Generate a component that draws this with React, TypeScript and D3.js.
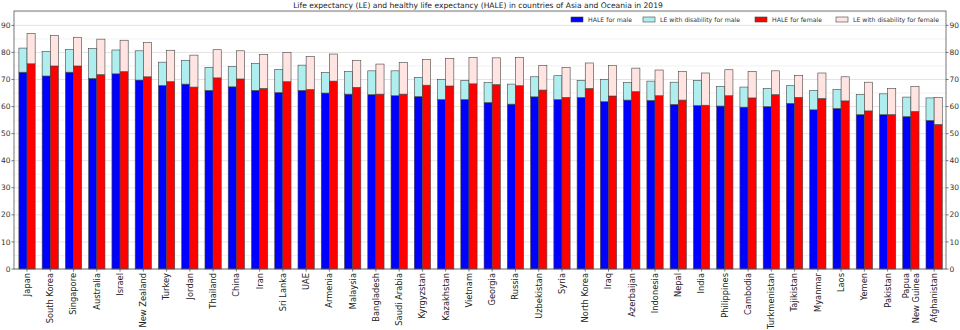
import React from "react";
import * as d3 from "d3";

const countries = ["Japan","South Korea","Singapore","Australia","Israel","New Zealand","Turkey","Jordan","Thailand","China","Iran","Sri Lanka","UAE","Armenia","Malaysia","Bangladesh","Saudi Arabia","Kyrgyzstan","Kazakhstan","Vietnam","Georgia","Russia","Uzbekistan","Syria","North Korea","Iraq","Azerbaijan","Indonesia","Nepal","India","Philippines","Cambodia","Turkmenistan","Tajikistan","Myanmar","Laos","Yemen","Pakistan","Papua\nNew Guinea","Afghanistan"];
const haleMale = [72.7,71.3,72.7,70.4,72.1,69.8,67.8,68.3,66.0,67.3,66.0,65.2,66.0,65.0,64.6,64.4,64.0,63.7,62.6,62.6,61.5,60.9,63.6,62.6,63.4,61.8,62.4,62.3,60.8,60.4,60.2,59.8,60.0,61.2,58.8,59.3,57.0,57.0,56.3,54.9];
const leMale = [81.6,80.4,81.1,81.5,80.9,80.6,76.4,77.1,74.5,74.8,75.9,73.7,75.3,72.6,72.9,73.2,73.2,70.8,70.0,69.7,68.9,68.3,71.0,71.4,69.7,70.0,68.9,69.4,69.0,69.7,67.4,67.2,66.7,67.7,66.0,66.3,64.5,64.7,63.5,63.2];
const haleFemale = [75.8,75.0,75.0,71.8,72.9,71.0,69.2,67.2,70.6,70.2,66.7,69.2,66.3,69.4,67.1,64.6,64.6,67.9,67.6,68.4,68.1,67.7,66.1,63.4,66.7,63.9,65.5,64.0,62.4,60.5,64.0,63.2,64.4,63.4,63.0,62.1,58.4,57.0,58.2,53.4];
const leFemale = [87.0,86.2,85.6,84.9,84.5,83.7,80.8,79.0,81.0,80.6,79.2,80.0,78.5,79.4,77.1,75.7,76.3,77.4,77.8,78.2,78.0,78.2,75.2,74.5,76.1,75.1,74.2,73.5,72.9,72.4,73.6,72.9,73.2,71.5,72.4,71.0,69.0,66.7,67.4,63.4];
const yTicks = [0,10,20,30,40,50,60,70,80,90];
const minorTicks = [5,15,25,35,45,55,65,75,85,95];
const legendItems = ["HALE for male","LE with disability for male","HALE for female","LE with disability for female"];
const title = "Life expectancy (LE) and healthy life expectancy (HALE) in countries of Asia and Oceania in 2019";

const C_BM = "#0000ff", C_CM = "#afeeee", C_RF = "#ff0000", C_PF = "#ffe4e1";
const FONT = "DejaVu Sans, sans-serif";

export default function App() {
  const W = 960, H = 330;
  const left = 14, right = 946, top = 11, bottom = 269;
  const x = d3.scaleLinear().domain([-0.56, 39.51]).range([left, right]);
  const y = d3.scaleLinear().domain([0, 95.3]).range([bottom, top]);
  const bw = x(0.35) - x(0);
  const edge = "#444";
  const ew = 0.6;
  const legendX = [571, 643, 755, 836];
  const legendColors = [C_BM, C_CM, C_RF, C_PF];

  return (
    <svg width={W} height={H} style={{ position: "absolute", left: 0, top: 0, background: "#fff" }} fontFamily={FONT}>
      <rect x={0} y={0} width={W} height={H} fill="#fff" />
      {minorTicks.filter(t => y(t) > top).map(t => (
        <line key={"mg" + t} x1={left} x2={right} y1={y(t)} y2={y(t)} stroke="#eeeeee" strokeWidth={0.8} />
      ))}
      {yTicks.map(t => (
        <line key={"g" + t} x1={left} x2={right} y1={y(t)} y2={y(t)} stroke="#dcdcdc" strokeWidth={0.8} />
      ))}
      {countries.map((c, i) => {
        const xm = x(i) - bw;
        const xf = x(i);
        return (
          <g key={c}>
            <rect x={xm} y={y(haleMale[i])} width={bw} height={y(0) - y(haleMale[i])} fill={C_BM} stroke={edge} strokeWidth={ew} />
            <rect x={xm} y={y(leMale[i])} width={bw} height={y(haleMale[i]) - y(leMale[i])} fill={C_CM} stroke={edge} strokeWidth={ew} />
            <rect x={xf} y={y(haleFemale[i])} width={bw} height={y(0) - y(haleFemale[i])} fill={C_RF} stroke={edge} strokeWidth={ew} />
            <rect x={xf} y={y(leFemale[i])} width={bw} height={y(haleFemale[i]) - y(leFemale[i])} fill={C_PF} stroke={edge} strokeWidth={ew} />
          </g>
        );
      })}
      <rect x={left} y={top} width={right - left} height={bottom - top} fill="none" stroke="#555" strokeWidth={0.8} />
      {yTicks.map(t => (
        <g key={"t" + t}>
          <line x1={left - 2.5} x2={left} y1={y(t)} y2={y(t)} stroke="#555" strokeWidth={0.8} />
          <text x={left - 3.5} y={y(t)} dy="0.35em" textAnchor="end" fontSize={7.5} fill="#333">{t}</text>
          <line x1={right} x2={right + 2.5} y1={y(t)} y2={y(t)} stroke="#555" strokeWidth={0.8} />
          <text x={right + 3.5} y={y(t)} dy="0.35em" textAnchor="start" fontSize={7.5} fill="#333">{t}</text>
        </g>
      ))}
      {countries.map((c, i) => {
        const lines = c.split("\n");
        const n = lines.length;
        return (
          <g key={"xl" + c}>
            <line x1={x(i)} x2={x(i)} y1={bottom} y2={bottom + 2.5} stroke="#555" strokeWidth={0.8} />
            <text transform={`translate(${x(i)},${bottom + 4}) rotate(-90)`} textAnchor="end" fontSize={8.3} fill="#222">
              {lines.map((l, k) => (
                <tspan key={k} x={0} y={(k - (n - 1) / 2) * 9.5} dy="0.35em">{l}</tspan>
              ))}
            </text>
          </g>
        );
      })}
      <text x={478} y={7.5} textAnchor="middle" fontSize={7.6} fill="#222">{title}</text>
      {legendItems.map((l, k) => (
        <g key={l}>
          <rect x={legendX[k]} y={17} width={12} height={5} fill={legendColors[k]} stroke={edge} strokeWidth={0.6} />
          <text x={legendX[k] + 17} y={19.5} dy="0.35em" fontSize={6.2} fill="#333">{l}</text>
        </g>
      ))}
    </svg>
  );
}
